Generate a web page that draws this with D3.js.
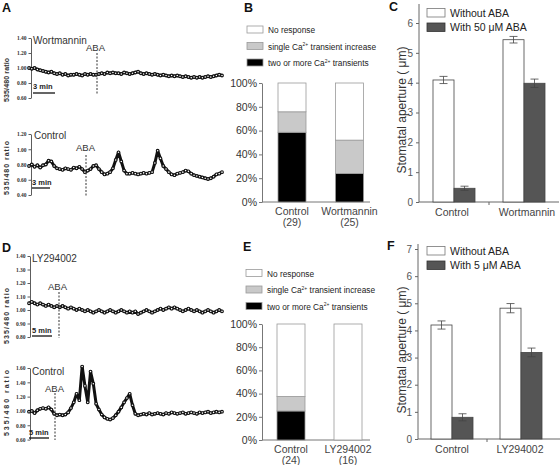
<!DOCTYPE html>
<html><head><meta charset="utf-8">
<script src="https://cdn.jsdelivr.net/npm/d3@7"></script>
<style>body{margin:0;background:#fff} svg{display:block;font-family:"Liberation Sans",Arial,sans-serif}</style>
</head><body><svg id="c" width="560" height="465"></svg>
<script>
// ---------- DATA ----------
const traceWortmannin = [1.00,0.99,1.00,0.98,0.97,0.96,
 0.95,0.94,0.95,0.93,0.92,0.93,0.91,0.92,0.90,0.91,0.91,
 0.92,0.91,0.90,0.92,0.91,0.92,0.91,0.91,
 0.92,0.93,0.92,0.94,0.93,0.94,0.93,
 0.93,0.92,0.94,0.93,0.92,0.93,0.94,0.95,0.93,
 0.92,0.93,0.92,0.91,0.92,0.91,0.90,0.91,0.90,
 0.89,0.90,0.89,0.90,0.89,0.88,0.89,0.88,0.87,0.88,
 0.87,0.88,0.87,0.88,0.89,0.88,0.89,0.90,0.91,0.90];
const traceControlA = [0.78,0.80,0.77,0.79,0.76,0.79,0.80,0.85,
 0.84,0.78,0.75,
 0.74,0.73,0.75,0.74,0.73,0.76,0.75,0.77,0.74,
 0.70,0.72,0.74,0.78,0.79,
 0.74,0.70,0.67,0.68,0.70,0.75,0.86,0.96,0.84,0.72,0.68,
 0.68,0.69,0.68,0.67,0.68,0.69,0.68,0.69,
 0.70,0.82,0.98,0.88,0.78,0.74,0.70,
 0.67,0.66,0.68,0.69,0.70,0.72,0.71,
 0.68,0.66,0.65,0.64,0.63,0.62,0.61,0.62,0.64,0.67,0.68,0.70];
const traceLY = [1.05,1.06,1.05,1.04,1.05,1.04,1.03,1.04,1.03,1.02,1.03,
 1.02,1.03,1.02,1.01,1.02,1.01,1.00,1.01,1.00,0.99,1.00,0.99,
 0.98,0.99,1.00,0.99,0.98,0.99,1.00,0.99,0.98,0.99,1.00,0.99,
 0.98,0.99,0.98,0.99,0.97,0.98,0.99,1.00,0.99,0.98,0.99,1.00,
 1.01,1.00,1.01,1.02,1.01,1.02,1.01,1.00,0.99,1.00,1.01,1.00,
 0.99,1.00,0.99,0.98,0.99,1.00,0.99,0.98,0.99,1.00,0.99];
const traceControlD = [0.99,1.00,0.97,1.01,
 1.03,1.04,1.03,1.05,1.02,
 0.96,0.94,0.95,0.94,0.95,
 0.98,1.04,1.12,
 1.24,1.15,1.62,1.35,1.12,1.55,1.38,1.10,1.02,
 0.95,0.91,0.89,0.88,0.90,
 0.94,0.99,1.05,1.12,1.18,
 1.24,1.08,0.96,
 0.94,0.95,0.96,0.95,0.97,0.95,0.96,0.97,0.96,0.95,0.97,0.96,0.98,0.97,0.96,0.97,0.98,0.96,0.97,0.98,0.97,0.96,0.98,0.97,0.98,0.99,0.97,0.98,0.99,0.98,0.99];
const ticksA1 = [0.6,0.8,1.0,1.2,1.4];
const ticksA2 = [0.4,0.6,0.8,1.0,1.2];
const ticksD1 = [0.8,0.9,1.0,1.1,1.2,1.3,1.4];
const ticksD2 = [0.6,0.8,1.0,1.2,1.4,1.6];

const stackLegend = ["No response","single Ca|2+| transient increase","two or more Ca|2+| transients"];
const catsB = ["Control","Wortmannin"], nB = ["(29)","(25)"];
const twoB = [58.6,24.0], singleB = [17.2,28.0], noneB = [24.2,48.0];
const catsE = ["Control","LY294002"], nE = ["(24)","(16)"];
const twoE = [25.0,0], singleE = [12.5,0], noneE = [62.5,100];
const pctTicks = [0,20,40,60,80,100];

const catsC = ["Control","Wortmannin"];
const withoutC = [4.09,5.44], withC = [0.46,3.98];
const errWithoutC = [0.12,0.11], errWithC = [0.07,0.14];
const legendC = ["Without ABA","With 50 \u03bcM ABA"];
const ticksC = [0,1,2,3,4,5,6];
const catsF = ["Control","LY294002"];
const withoutF = [4.2,4.82], withF = [0.8,3.19];
const errWithoutF = [0.15,0.17], errWithF = [0.13,0.16];
const legendF = ["Without ABA","With 5 \u03bcM ABA"];
const ticksF = [0,1,2,3,4,5,6,7];

// ---------- DRAW ----------
const svg = d3.select("#c");

function letter(t,x,y){ svg.append("text").attr("x",x).attr("y",y).text(t)
  .attr("font-size",12.5).attr("font-weight","bold").attr("fill","#111"); }
letter("A",2,12); letter("B",244,12); letter("C",389,11);
letter("D",2,252); letter("E",243,251); letter("F",387,250);

function drawTrace(c){
  const g = svg.append("g");
  const y = d3.scaleLinear().domain(c.dom).range(c.rng);
  const x = d3.scaleLinear().domain([0,c.vals.length-1]).range([c.x0,c.x1]);
  const ax = g.append("g").attr("transform",`translate(${c.ax},0)`)
    .call(d3.axisLeft(y).tickValues(c.ticks).tickSize(2.5).tickSizeOuter(0).tickPadding(2).tickFormat(d3.format(".2f")));
  ax.select(".domain").attr("stroke","#333").attr("stroke-width",0.8);
  ax.selectAll(".tick line").attr("stroke","#333").attr("stroke-width",0.8);
  ax.selectAll("text").attr("font-size",5.5).attr("font-family","Liberation Serif").attr("font-weight","bold").attr("fill","#333");
  g.append("text").attr("transform",`translate(${c.yl[0]},${c.yl[1]}) rotate(-90)`).attr("text-anchor","middle")
    .attr("font-size",7).attr("font-weight","bold").attr("fill","#333")
    .attr("textLength",c.yl[2]).attr("lengthAdjust","spacing").text("535/480 ratio");
  g.append("path").datum(c.vals).attr("fill","none").attr("stroke","#111").attr("stroke-width",3)
    .attr("stroke-linejoin","round").attr("d",d3.line().x((d,i)=>x(i)).y(d=>y(d)));
  g.selectAll("circle").data(c.vals).join("circle").attr("cx",(d,i)=>x(i)).attr("cy",d=>y(d))
    .attr("r",1.35).attr("fill","#fff").attr("stroke","#111").attr("stroke-width",1.1);
  g.append("text").attr("x",c.lab[1]).attr("y",c.lab[2]).attr("font-size",10).attr("fill","#333").text(c.lab[0]);
  g.append("text").attr("x",c.aba[0]).attr("y",c.aba[1]).attr("font-size",9.5).attr("fill","#333").text("ABA");
  g.append("line").attr("x1",c.dash[0]).attr("x2",c.dash[0]).attr("y1",c.dash[1]).attr("y2",c.dash[2])
    .attr("stroke","#333").attr("stroke-width",1).attr("stroke-dasharray","2,1.5");
  g.append("text").attr("x",c.sb[0]).attr("y",c.sb[3]).attr("font-size",7.5).attr("font-weight","bold").attr("fill","#222").text(c.sb[4]);
  g.append("line").attr("x1",c.sb[0]).attr("x2",c.sb[1]).attr("y1",c.sb[2]).attr("y2",c.sb[2]).attr("stroke","#111").attr("stroke-width",1.3);
}
drawTrace({vals:traceWortmannin,x0:29,x1:222,ax:31,dom:[0.6,1.4],rng:[98,38],ticks:ticksA1,
  yl:[9,80,44],lab:["Wortmannin",33,44],aba:[86,51],dash:[97,53,95],sb:[33,55,93,89,"3 min"]});
drawTrace({vals:traceControlA,x0:29,x1:222,ax:31,dom:[0.4,1.2],rng:[195,134],ticks:ticksA2,
  yl:[9,168,54],lab:["Control",34,139],aba:[76,151],dash:[86,155,196],sb:[32,50,188,185,"3 min"]});
drawTrace({vals:traceLY,x0:29,x1:222,ax:30,dom:[0.8,1.4],rng:[337,256],ticks:ticksD1,
  yl:[9,316,56],lab:["LY294002",32,262],aba:[48,290],dash:[59,292,338],sb:[32,52,336,333,"5 min"]});
drawTrace({vals:traceControlD,x0:29,x1:222,ax:30,dom:[0.6,1.6],rng:[439.6,368],ticks:ticksD2,
  yl:[9,403,66],lab:["Control",32,375],aba:[45,392],dash:[55,393,440],sb:[29,49,438,435,"5 min"]});

function richText(sel, s){
  s.split("|").forEach((p,i)=>{
    const t = sel.append("tspan").text(p);
    if(i%2===1) t.attr("font-size","0.6em").attr("dy",-3.5);
    else if(i>0) t.attr("dy",3.5);
  });
}

function drawStack(c){
  const g = svg.append("g");
  const y = d3.scaleLinear().domain([0,100]).range(c.rng);
  const x = d3.scalePoint().domain(c.cats).range(c.xr);
  const ax = g.append("g").attr("transform",`translate(${c.ax},0)`)
    .call(d3.axisLeft(y).tickValues(pctTicks).tickSize(3).tickSizeOuter(0).tickPadding(2).tickFormat(d=>d+"%"));
  ax.select(".domain").attr("stroke","#777");
  ax.selectAll(".tick line").attr("stroke","#777");
  ax.selectAll("text").attr("font-size",10.5).attr("fill","#333").attr("font-family","Liberation Sans");
  g.append("line").attr("x1",c.ax).attr("x2",c.axEnd).attr("y1",c.rng[0]).attr("y2",c.rng[0]).attr("stroke","#777");
  const bw = 28;
  const rows = c.cats.map((k,i)=>({k,two:c.two[i],single:c.single[i],none:c.none[i]}));
  const layers = [["two","#000"],["single","#c9c9c9"],["none","#fff"]];
  rows.forEach(r=>{
    let base=0;
    layers.forEach(([key,col])=>{
      const v=r[key]; if(v<=0) return;
      g.append("rect").attr("x",x(r.k)-bw/2).attr("width",bw).attr("y",y(base+v)).attr("height",y(base)-y(base+v))
        .attr("fill",col).attr("stroke","#999").attr("stroke-width",0.8);
      base+=v;
    });
  });
  c.cats.forEach((k,i)=>{
    g.append("text").attr("x",x(k)).attr("y",c.rng[0]+13).attr("text-anchor","middle").attr("font-size",10.5).attr("fill","#444").text(k);
    g.append("text").attr("x",x(k)).attr("y",c.rng[0]+24).attr("text-anchor","middle").attr("font-size",10.5).attr("fill","#444").text(c.n[i]);
  });
  const cols = ["#fff","#c9c9c9","#000"];
  stackLegend.forEach((s,i)=>{
    const yy = c.leg[1]+i*16.5;
    g.append("rect").attr("x",c.leg[0]).attr("y",yy).attr("width",16).attr("height",7).attr("fill",cols[i]).attr("stroke","#999").attr("stroke-width",0.8);
    const t = g.append("text").attr("x",c.leg[0]+21).attr("y",yy+7).attr("font-size",8.3).attr("fill","#222");
    richText(t,s);
  });
}
drawStack({cats:catsB,n:nB,two:twoB,single:singleB,none:noneB,rng:[202,83],xr:[292,349.5],ax:262,axEnd:370,leg:[247,26]});
drawStack({cats:catsE,n:nE,two:twoE,single:singleE,none:noneE,rng:[440,324],xr:[291,348],ax:262,axEnd:370,leg:[246,269.5]});

function drawGroup(c){
  const g = svg.append("g");
  const y = d3.scaleLinear().domain([0,c.ticks[c.ticks.length-1]]).range(c.rng);
  const x = d3.scalePoint().domain(c.cats).range(c.xr);
  const ax = g.append("g").attr("transform",`translate(${c.ax},0)`)
    .call(d3.axisLeft(y).tickValues(c.ticks).tickSize(3).tickSizeOuter(0).tickPadding(3).tickFormat(d3.format("d")));
  ax.select(".domain").attr("stroke","#666").attr("d",`M0,${c.rng[0]}V${c.top}`);
  ax.selectAll(".tick line").attr("stroke","#666");
  ax.selectAll("text").attr("font-size",10).attr("fill","#555").attr("font-family","Liberation Sans");
  g.append("line").attr("x1",c.ax).attr("x2",c.axEnd).attr("y1",c.rng[0]).attr("y2",c.rng[0]).attr("stroke","#666");
  g.append("line").attr("x1",c.mid).attr("x2",c.mid).attr("y1",c.rng[0]).attr("y2",c.rng[0]+3).attr("stroke","#666");
  const bw = 21;
  c.cats.forEach((k,i)=>{
    const cx = x(k);
    [[c.wo[i],c.ewo[i],cx-bw,"#fff"],[c.w[i],c.ew[i],cx,"#555"]].forEach(([v,e,x0,col])=>{
      g.append("rect").attr("x",x0).attr("width",bw).attr("y",y(v)).attr("height",y(0)-y(v))
        .attr("fill",col).attr("stroke","#444").attr("stroke-width",0.8);
      const m = x0+bw/2;
      g.append("path").attr("d",`M${m},${y(v+e)}V${y(v-e)}M${m-4},${y(v+e)}H${m+4}M${m-4},${y(v-e)}H${m+4}`)
        .attr("stroke","#444").attr("stroke-width",0.8).attr("fill","none");
    });
    g.append("text").attr("x",c.labX[i]).attr("y",c.rng[0]+14).attr("text-anchor","middle").attr("font-size",10.5).attr("fill","#444").text(k);
  });
  g.append("text").attr("transform",`translate(${c.yl[0]},${c.yl[1]}) rotate(-90)`).attr("text-anchor","middle")
    .attr("font-size",12).attr("fill","#333").text("Stomatal aperture ( \u03bcm)");
  c.legend.forEach((s,i)=>{
    const yy = c.leg[1]+i*14.5;
    g.append("rect").attr("x",c.leg[0]).attr("y",yy).attr("width",18).attr("height",8.5)
      .attr("fill",i?"#555":"#fff").attr("stroke",i?"#333":"#777").attr("stroke-width",0.8);
    g.append("text").attr("x",c.leg[0]+23).attr("y",yy+8).attr("font-size",10.5).attr("fill","#222").text(s);
  });
}
drawGroup({cats:catsC,wo:withoutC,w:withC,ewo:errWithoutC,ew:errWithC,ticks:ticksC,rng:[202,23],top:4,
  xr:[454,524],ax:419,axEnd:559,mid:489,labX:[452,527],yl:[406,110],legend:legendC,leg:[427,8.5]});
drawGroup({cats:catsF,wo:withoutF,w:withF,ewo:errWithoutF,ew:errWithF,ticks:ticksF,rng:[439,249],top:244,
  xr:[452,521],ax:418,axEnd:560,mid:487,labX:[452,520],yl:[406,350],legend:legendF,leg:[427,246.5]});
</script></body></html>
